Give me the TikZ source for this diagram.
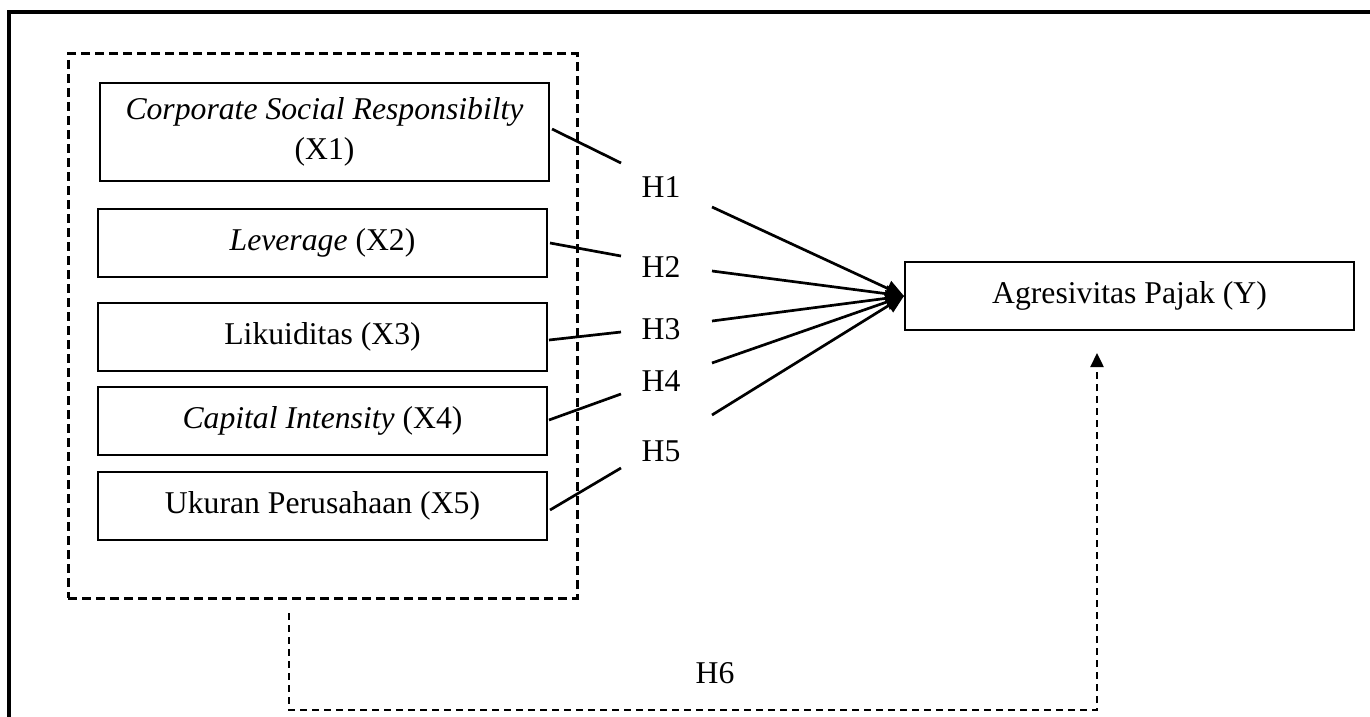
\documentclass[tikz,border=0pt]{standalone}
\usepackage{fontspec}
\setmainfont{Liberation Serif}
\usetikzlibrary{arrows.meta,calc}
\begin{document}
\begin{tikzpicture}[x=1pt,y=-1pt,
  box/.style={draw,line width=2pt,minimum width=449pt,minimum height=68pt,inner sep=0pt,align=center,font=\fontsize{31.7}{40}\selectfont},
  hlab/.style={inner sep=0pt,font=\fontsize{31.7}{38}\selectfont},
  conn/.style={line width=2.7pt},
  arr/.style={conn,-{Triangle[length=18pt,width=16pt]}},
  grpbox/.style={draw,line width=3pt,dash pattern=on 9pt off 5pt,minimum width=509pt,minimum height=544pt,inner sep=0pt},
  dline/.style={line width=2.4pt,dash pattern=on 7pt off 5pt},
  frame/.style={line width=3.2pt}
]
\useasboundingbox (0,0) rectangle (1370,717);
\coordinate (fa) at (9,717);
\coordinate (fb) at (9,12);
\coordinate (fc) at (1370,12);
\draw[frame] (fa) -- (fb) -- (fc);

\node[grpbox] (grp) at (322.5,326) {};
\node[box,minimum height=98pt] (x1) at (324.5,132) {\textit{Corporate Social Responsibilty}\\(X1)};
\node[box] (x2) at (322.5,243) {\textit{Leverage} (X2)};
\node[box] (x3) at (322.5,337) {Likuiditas (X3)};
\node[box] (x4) at (322.5,421) {\textit{Capital Intensity} (X4)};
\node[box] (x5) at (322.5,506) {Ukuran Perusahaan (X5)};
\node[box] (y) at (1129.5,296) {Agresivitas Pajak (Y)};

\node[hlab] (h1) at (661,187) {H1};
\node[hlab] (h2) at (661,267) {H2};
\node[hlab] (h3) at (661,329) {H3};
\node[hlab] (h4) at (661,381) {H4};
\node[hlab] (h5) at (661,451) {H5};
\node[hlab] (h6) at (715,673) {H6};

\coordinate (l1) at (621,163);
\coordinate (l2) at (621,256);
\coordinate (l3) at (621,332);
\coordinate (l4) at (621,394);
\coordinate (l5) at (621,468);
\coordinate (r1) at (712,207);
\coordinate (r2) at (712,271);
\coordinate (r3) at (712,321);
\coordinate (r4) at (712,363);
\coordinate (r5) at (712,415);

\draw[conn] ($(x1.east)+(2,-3)$) -- (l1);
\draw[conn] ($(x2.east)+(2,0)$) -- (l2);
\draw[conn] ($(x3.east)+(1,3)$) -- (l3);
\draw[conn] ($(x4.east)+(1,-1)$) -- (l4);
\draw[conn] ($(x5.east)+(2,4)$) -- (l5);

\draw[arr] (r1) -- (y.west);
\draw[arr] (r2) -- (y.west);
\draw[arr] (r3) -- (y.west);
\draw[arr] (r4) -- (y.west);
\draw[arr] (r5) -- (y.west);

\coordinate (s6) at (289,613);
\coordinate (c1) at (289,710);
\coordinate (c2) at (1097,710);
\coordinate (e6) at (1097,353);
\draw[dline,-{Triangle[length=14pt,width=13pt]}] (s6) -- (c1) -- (c2) -- (e6);
\end{tikzpicture}
\end{document}
